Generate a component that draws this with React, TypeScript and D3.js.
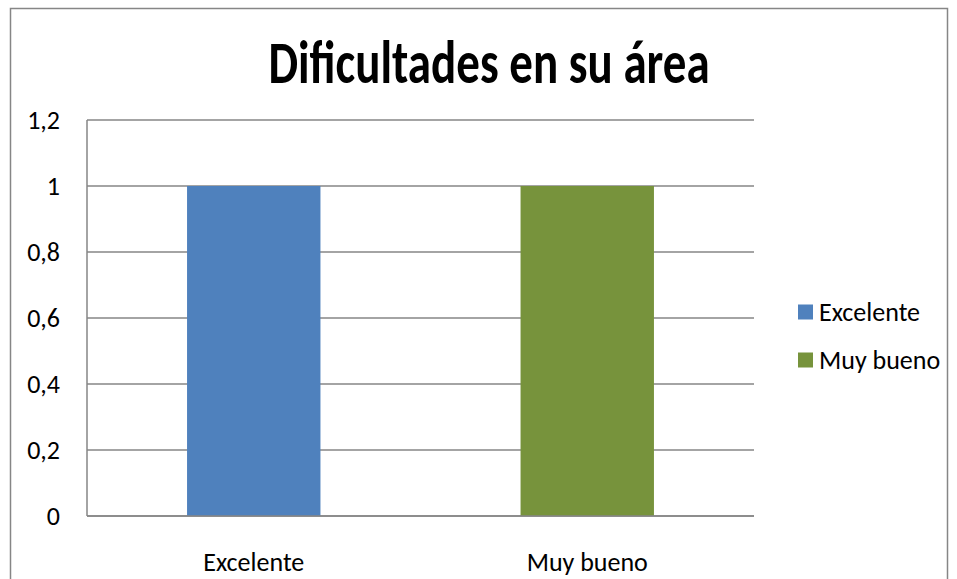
import * as d3 from "d3";

const categories = ["Excelente", "Muy bueno"];
const values = [1, 1];
const colors = ["#4f81bd", "#77933c"];
const yTicks = [0, 0.2, 0.4, 0.6, 0.8, 1, 1.2];

const W = 957;
const H = 579;
const plot = { left: 87, right: 754, top: 120, bottom: 516 };
const font = "Calibri, Carlito, 'Open Sans', 'Noto Sans', sans-serif";

export default function App() {
  const x = d3
    .scaleBand<string>()
    .domain(categories)
    .range([plot.left, plot.right])
    .paddingInner(0.6)
    .paddingOuter(0.3);
  const y = d3.scaleLinear().domain([0, 1.2]).range([plot.bottom, plot.top]);
  const fmt = (v: number) => d3.format("~g")(v).replace(".", ",");

  return (
    <svg
      width={W}
      height={H}
      style={{ position: "absolute", left: 0, top: 0, background: "#fff" }}
      fontFamily={font}
    >
      {/* chart border */}
      <rect x={10.5} y={8.5} width={937} height={600} fill="#fff" stroke="#868686" strokeWidth={1.5} />

      {/* title: the source font is taller and narrower, so stretch vertically */}
      <g transform="translate(489,83) scale(1,1.3)">
        <text x={0} y={0} textAnchor="middle" fontSize={47} fontWeight="bold" fill="#000">
          Dificultades en su área
        </text>
      </g>

      {/* gridlines + y labels */}
      {yTicks.map((t) => (
        <g key={t}>
          <line x1={plot.left} x2={plot.right} y1={y(t)} y2={y(t)} stroke="#868686" strokeWidth={1.5} />
          <text x={60} y={y(t)} dy="0.35em" textAnchor="end" fontSize={26} fill="#000">
            {fmt(t)}
          </text>
        </g>
      ))}
      <line x1={plot.left} x2={plot.left} y1={plot.top} y2={plot.bottom} stroke="#868686" strokeWidth={1.5} />

      {/* bars */}
      {categories.map((c, i) => (
        <rect
          key={c}
          x={x(c)}
          y={y(values[i])}
          width={x.bandwidth()}
          height={plot.bottom - y(values[i])}
          fill={colors[i]}
        />
      ))}
      <line x1={plot.left} x2={plot.right} y1={plot.bottom} y2={plot.bottom} stroke="#868686" strokeWidth={1.5} />

      {/* x labels */}
      {categories.map((c) => (
        <text key={c} x={(x(c) ?? 0) + x.bandwidth() / 2} y={562} dy="0.35em" textAnchor="middle" fontSize={26} fill="#000">
          {c}
        </text>
      ))}

      {/* legend */}
      {categories.map((c, i) => (
        <g key={c} transform={`translate(798,${312 + i * 48})`}>
          <rect x={0} y={-7.5} width={15} height={15} fill={colors[i]} />
          <text x={21} y={0} dy="0.35em" fontSize={26} fill="#000">
            {c}
          </text>
        </g>
      ))}
    </svg>
  );
}
